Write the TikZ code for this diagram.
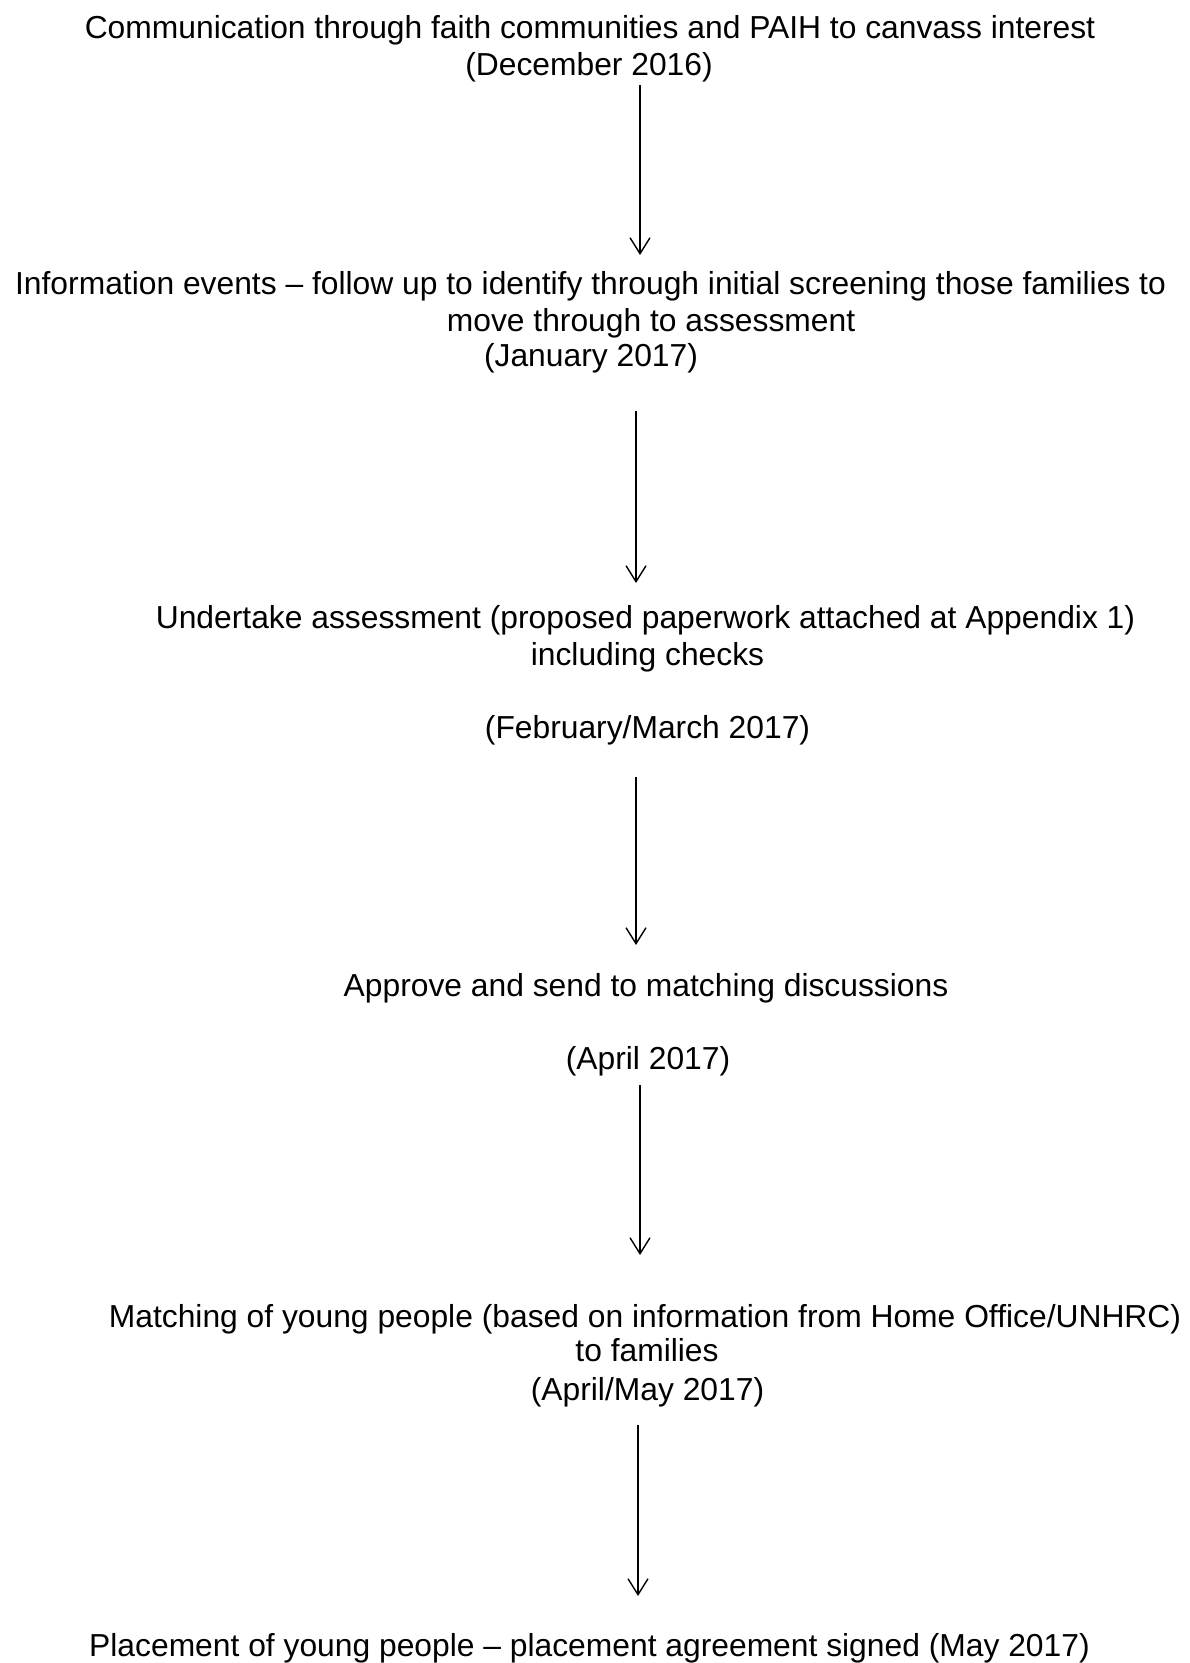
\documentclass[tikz,border=0pt]{standalone}
\usepackage{fontspec}
\setmainfont{Liberation Sans}
\usetikzlibrary{arrows.meta}
\begin{document}
\begin{tikzpicture}[x=0.5pt,y=-0.5pt,
  txt/.style={anchor=base,inner sep=0pt,font=\fontsize{15.9}{19}\selectfont},
  flow/.style={line width=0.7pt,-{Straight Barb[length=8pt,width=10pt,line width=0.7pt]}}]
\useasboundingbox[fill=white] (0,0) rectangle (1189,1663);
\node[txt] (l1) at (590,38.5) {Communication through faith communities and PAIH to canvass interest};
\node[txt] (l2) at (589,76) {(December 2016)};
\node[txt] (l3) at (590.5,295) {Information events – follow up to identify through initial screening those families to};
\node[txt] (l4) at (651,331.5) {move through to assessment};
\node[txt] (l5) at (591,367) {(January 2017)};
\node[txt] (l6) at (645.5,628) {Undertake assessment (proposed paperwork attached at Appendix 1)};
\node[txt] (l7) at (647.5,665) {including checks};
\node[txt] (l8) at (647.5,738) {(February/March 2017)};
\node[txt] (l9) at (646,996) {Approve and send to matching discussions};
\node[txt] (l10) at (648,1069) {(April 2017)};
\node[txt] (l11) at (645,1327) {Matching of young people (based on information from Home Office/UNHRC)};
\node[txt] (l12) at (647,1361) {to families};
\node[txt] (l13) at (647.5,1400) {(April/May 2017)};
\node[txt] (l14) at (589.5,1656) {Placement of young people – placement agreement signed (May 2017)};
\coordinate (a1s) at (640,85);   \coordinate (a1e) at (640,255);
\coordinate (a2s) at (636,411);  \coordinate (a2e) at (636,583);
\coordinate (a3s) at (636,777);  \coordinate (a3e) at (636,945);
\coordinate (a4s) at (640,1085); \coordinate (a4e) at (640,1255);
\coordinate (a5s) at (638,1425); \coordinate (a5e) at (638,1596);
\draw[flow] (a1s) -- (a1e);
\draw[flow] (a2s) -- (a2e);
\draw[flow] (a3s) -- (a3e);
\draw[flow] (a4s) -- (a4e);
\draw[flow] (a5s) -- (a5e);
\end{tikzpicture}
\end{document}
